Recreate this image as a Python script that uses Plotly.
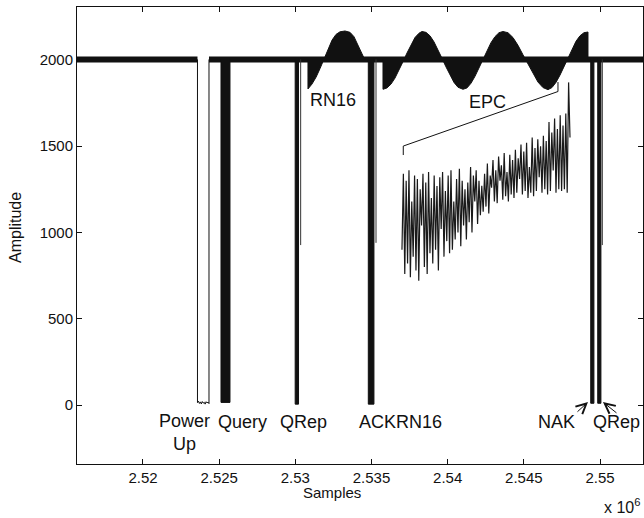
import numpy as np
import plotly.graph_objects as go

# ---------------- data ----------------
x_range = [2515668, 2552822]
y_range = [-342, 2307]
x_tickvals = [2520000, 2525000, 2530000, 2535000, 2540000, 2545000, 2550000]
x_ticktext = ["2.52", "2.525", "2.53", "2.535", "2.54", "2.545", "2.55"]
y_tickvals = [0, 500, 1000, 1500, 2000]
y_ticktext = ["0", "500", "1000", "1500", "2000"]

baseline_level = 2003

# Power-up gap (carrier off)
powerup_start = 2523577
powerup_end = 2524332
powerup_bottom = [14, 22, 9, 18, 6, 20, 11, 16, 5, 19, 12, 17, 8]

# dense reader pulses (fill from baseline down to low level)
pulse_start = [2525120, 2529990, 2534790, 2549390, 2549850]
pulse_end = [2525710, 2530210, 2535160, 2549600, 2550060]
pulse_low = [15, 5, 5, 10, 10]

# single thin spikes
spike_x = [2530350, 2535295, 2550150]
spike_low = [927, 940, 927]

# tag backscatter envelopes
rn16_x = [2530830, 2531090, 2531360, 2531620, 2531880, 2532140, 2532410, 2532670,
          2532930, 2533260, 2533590, 2533850, 2534110, 2534380, 2534570]
rn16_y = [1832, 1860, 1900, 1950, 2005, 2065, 2115, 2148, 2163, 2168, 2160, 2135,
          2090, 2035, 2000]

epc_x = [2535754, 2536016, 2536279, 2536541, 2536804, 2537066, 2537329, 2537592,
         2537854, 2538117, 2538314, 2538576, 2538839, 2539101, 2539364, 2539626,
         2539889, 2540151, 2540414, 2540677, 2541005, 2541267, 2541530, 2541792,
         2542055, 2542318, 2542580, 2542843, 2543105, 2543368, 2543630, 2543959,
         2544287, 2544615, 2544943, 2545271, 2545600, 2545928, 2546256, 2546584,
         2546847, 2547109, 2547372, 2547634, 2547897, 2548160, 2548422, 2548685,
         2548947, 2549210]
epc_y = [1830, 1838, 1860, 1895, 1940, 1990, 2040, 2090, 2130, 2155,
         2165, 2160, 2140, 2105, 2060, 2010, 1960, 1910, 1870, 1842,
         1830, 1838, 1865, 1905, 1955, 2005, 2055, 2100, 2135, 2158,
         2165, 2158, 2130, 2085, 2030, 1975, 1920, 1872, 1840, 1828,
         1840, 1870, 1912, 1962, 2015, 2065, 2108, 2140, 2158, 2162]

# zoomed-in EPC inset trace
inset_x0 = 2537000
inset_x1 = 2548030
inset_vals = [
    900, 1340, 760, 1300, 820, 1360, 740, 1180, 860, 1330, 780, 1310, 720, 1250, 1040, 1340, 800, 1290, 760, 1350,
    880, 1200, 820, 1330, 900, 1270, 780, 1320, 1020, 1350, 860, 1240, 950, 1330, 880, 1360, 900, 1180, 960, 1310,
    1000, 1370, 920, 1300, 1040, 1250, 960, 1290, 1060, 1380, 1000, 1330, 1180, 1360, 1050, 1300, 1100, 1270, 1120, 1340,
    1150, 1400, 1110, 1330, 1260, 1420, 1180, 1360, 1170, 1440, 1300, 1390, 1190, 1460, 1210, 1350, 1180, 1450, 1220, 1420,
    1200, 1480, 1230, 1430, 1310, 1510, 1220, 1470, 1240, 1520, 1200, 1380, 1230, 1550, 1210, 1490, 1240, 1540, 1320, 1500,
    1230, 1560, 1250, 1530, 1220, 1640, 1240, 1580, 1360, 1660, 1230, 1600, 1250, 1680, 1240, 1620, 1250, 1690, 1230, 1870,
    1550,
]

# bracket joining EPC to the inset
bracket_x = [2537086, 2537086, 2547241, 2547241]
bracket_y = [1449, 1501, 1817, 1872]

# labels
label_text = ["RN16", "EPC", "Power<br>Up", "Query", "QRep", "ACKRN16", "NAK", "QRep"]
label_x = [2532472, 2542646, 2522757, 2526564, 2530568, 2536935, 2547175, 2551113]
label_y = [1768, 1757, -162, -101, -101, -101, -101, -101]

arrow_head_x = [2549210, 2550194]
arrow_head_y = [17, 17]
arrow_dx = [-12, 15]
arrow_dy = [11, 12]

# ---------------- figure ----------------
FONT = "Liberation Sans, Arial, Helvetica, sans-serif"
INK = "#111111"
fig = go.Figure()

# baseline carrier (broken at power-up)
fig.add_trace(go.Scatter(
    x=[x_range[0] - 2000, powerup_start, None, powerup_end, x_range[1] + 2000],
    y=[baseline_level, baseline_level, None, baseline_level, baseline_level],
    mode="lines", line=dict(color=INK, width=6), hoverinfo="skip"))

# power-up outline
pu_bx = list(np.linspace(powerup_start, powerup_end, len(powerup_bottom)))
fig.add_trace(go.Scatter(
    x=[powerup_start] + pu_bx + [powerup_end],
    y=[baseline_level] + powerup_bottom + [baseline_level],
    mode="lines", line=dict(color=INK, width=1), hoverinfo="skip"))

# dense pulses
for s, e, lo in zip(pulse_start, pulse_end, pulse_low):
    fig.add_trace(go.Scatter(
        x=[s, s, e, e, s], y=[baseline_level, lo, lo, baseline_level, baseline_level],
        mode="lines", fill="toself", fillcolor=INK,
        line=dict(color=INK, width=1), hoverinfo="skip"))

# thin spikes
for sx, lo in zip(spike_x, spike_low):
    fig.add_trace(go.Scatter(
        x=[sx, sx], y=[baseline_level, lo], mode="lines",
        line=dict(color="#333333", width=1), hoverinfo="skip"))

# backscatter envelopes
for ex, ey in ((rn16_x, rn16_y), (epc_x, epc_y)):
    px = [ex[0]] + ex + [ex[-1], ex[0]]
    py = [baseline_level] + ey + [baseline_level, baseline_level]
    fig.add_trace(go.Scatter(
        x=px, y=py, mode="lines", fill="toself", fillcolor=INK,
        line=dict(color=INK, width=1), hoverinfo="skip"))

# inset
inset_x = np.linspace(inset_x0, inset_x1, len(inset_vals))
fig.add_trace(go.Scatter(
    x=inset_x, y=inset_vals, mode="lines",
    line=dict(color="#1a1a1a", width=1.2), hoverinfo="skip"))

# bracket
fig.add_trace(go.Scatter(
    x=bracket_x, y=bracket_y, mode="lines",
    line=dict(color=INK, width=1), hoverinfo="skip"))

annotations = []
for t, lx, ly in zip(label_text, label_x, label_y):
    annotations.append(dict(x=lx, y=ly, xref="x", yref="y", text=t, showarrow=False,
                            xanchor="center", yanchor="middle",
                            font=dict(family=FONT, size=18, color=INK)))
for hx, hy, dx, dy in zip(arrow_head_x, arrow_head_y, arrow_dx, arrow_dy):
    annotations.append(dict(x=hx, y=hy, xref="x", yref="y", text="", showarrow=True,
                            ax=dx, ay=dy, arrowhead=5, arrowsize=2, arrowwidth=1,
                            arrowcolor=INK))
annotations.append(dict(x=(332 - 77) / 566, y=(464 - 492) / 457, xref="paper", yref="paper",
                        text="Samples", showarrow=False, xanchor="center", yanchor="middle",
                        font=dict(family=FONT, size=15, color=INK)))
annotations.append(dict(x=(15 - 77) / 566, y=(464 - 228) / 457, xref="paper", yref="paper",
                        text="Amplitude", showarrow=False, xanchor="center", yanchor="middle",
                        textangle=-90, font=dict(family=FONT, size=16, color=INK)))
annotations.append(dict(x=(642 - 77) / 566, y=(464 - 518) / 457, xref="paper", yref="paper",
                        text="x 10<sup>6</sup>", showarrow=False, xanchor="right", yanchor="bottom",
                        font=dict(family=FONT, size=16, color=INK)))

axis_common = dict(showline=True, linecolor=INK, linewidth=1, mirror="ticks",
                   ticks="inside", ticklen=5, tickcolor=INK, showgrid=False, zeroline=False,
                   tickfont=dict(family=FONT, size=15, color=INK))

fig.update_layout(
    width=644, height=518,
    margin=dict(l=77, r=1, t=7, b=54),
    paper_bgcolor="white", plot_bgcolor="white",
    showlegend=False,
    xaxis=dict(range=x_range, tickvals=x_tickvals, ticktext=x_ticktext, **axis_common),
    yaxis=dict(range=y_range, tickvals=y_tickvals, ticktext=y_ticktext, **axis_common),
    annotations=annotations,
)

fig.write_html("out.html", config={"displayModeBar": False},
               post_script="document.body.style.margin='0';document.body.style.overflow='hidden';")
